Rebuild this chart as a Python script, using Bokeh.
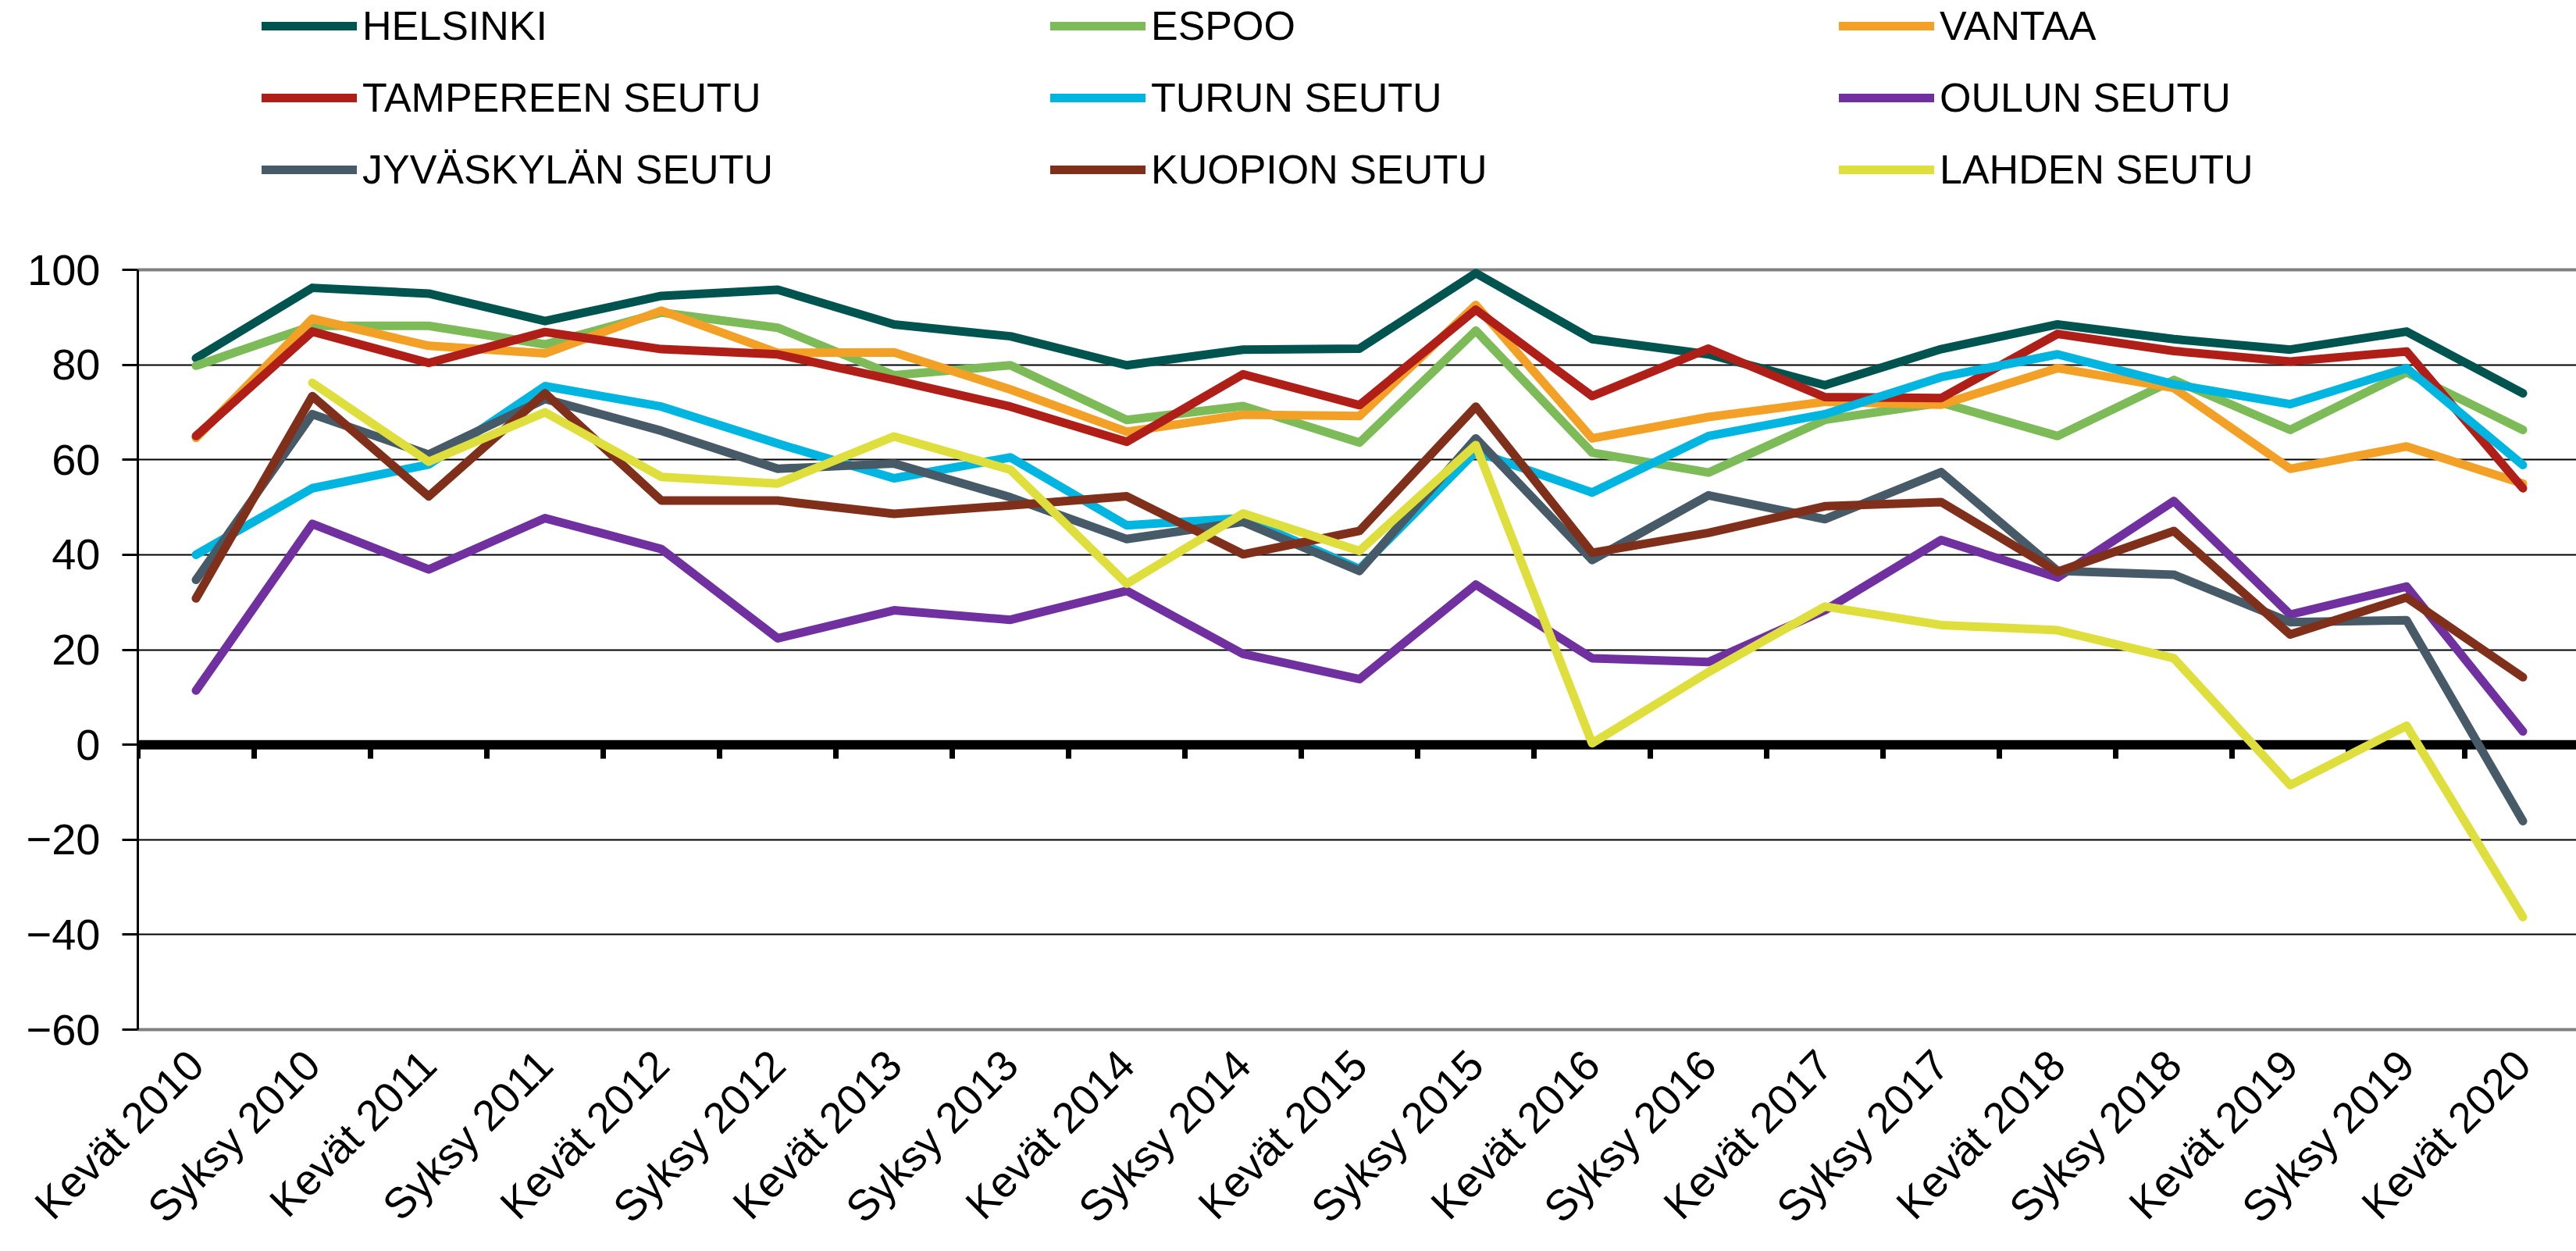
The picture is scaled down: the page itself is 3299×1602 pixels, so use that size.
import math
from bokeh.plotting import figure
from bokeh.models import Range1d, FixedTicker, Span, Legend, LegendItem, ColumnDataSource
from bokeh.embed import file_html
from bokeh.resources import INLINE

categories = ["Kevät 2010", "Syksy 2010", "Kevät 2011", "Syksy 2011", "Kevät 2012",
              "Syksy 2012", "Kevät 2013", "Syksy 2013", "Kevät 2014", "Syksy 2014",
              "Kevät 2015", "Syksy 2015", "Kevät 2016", "Syksy 2016", "Kevät 2017",
              "Syksy 2017", "Kevät 2018", "Syksy 2018", "Kevät 2019", "Syksy 2019",
              "Kevät 2020"]

helsinki = [81.4, 96.2, 95.0, 89.2, 94.5, 95.8, 88.5, 86.0, 79.9, 83.2, 83.4,
            99.3, 85.4, 82.2, 75.7, 83.3, 88.5, 85.4, 83.2, 87.0, 74.0]
espoo = [79.8, 88.2, 88.2, 84.3, 91.0, 87.8, 77.8, 79.9, 68.4, 71.3, 63.6,
         87.2, 61.5, 57.3, 68.4, 72.0, 65.0, 76.8, 66.3, 78.4, 66.3]
vantaa = [64.6, 89.7, 84.0, 82.4, 91.4, 82.5, 82.6, 74.8, 65.9, 69.5, 69.2,
          92.6, 64.5, 69.0, 72.2, 71.6, 79.3, 75.1, 58.1, 62.8, 55.0]
tampere = [65.0, 87.0, 80.4, 86.9, 83.3, 82.2, 76.8, 71.2, 63.8, 78.0, 71.5,
           91.6, 73.4, 83.4, 73.2, 73.0, 86.5, 82.9, 80.7, 82.8, 54.0]
turku = [40.0, 54.0, 59.0, 75.5, 71.2, 63.4, 56.1, 60.5, 46.2, 47.7, 37.0,
         61.7, 53.1, 65.0, 69.6, 77.4, 82.2, 75.9, 71.7, 79.3, 58.9]
oulu = [11.4, 46.5, 36.9, 47.7, 41.2, 22.4, 28.3, 26.3, 32.4, 19.1, 13.8,
        33.7, 18.2, 17.4, 28.3, 43.1, 35.2, 51.3, 27.4, 33.3, 2.8]
jyvaskyla = [34.7, 69.6, 61.1, 72.8, 66.1, 58.1, 59.2, 52.1, 43.3, 46.9, 36.6,
             64.5, 38.9, 52.5, 47.5, 57.4, 36.6, 35.8, 25.8, 26.2, -16.1]
kuopio = [30.8, 73.4, 52.3, 74.0, 51.4, 51.4, 48.6, 50.4, 52.3, 40.1, 45.0,
          71.2, 40.4, 44.6, 50.2, 51.1, 36.4, 45.0, 23.2, 31.0, 14.2]
lahti = [float("nan"), 76.2, 59.6, 70.0, 56.4, 55.0, 64.9, 57.9, 33.9, 48.7, 40.8,
         63.1, 0.3, 15.3, 29.1, 25.2, 24.1, 18.2, -8.5, 4.0, -36.3]

series_names = ["HELSINKI", "ESPOO", "VANTAA", "TAMPEREEN SEUTU", "TURUN SEUTU",
                "OULUN SEUTU", "JYVÄSKYLÄN SEUTU", "KUOPION SEUTU", "LAHDEN SEUTU"]
series_values = [helsinki, espoo, vantaa, tampere, turku, oulu, jyvaskyla, kuopio, lahti]
series_colors = ["#00544F", "#7CBB58", "#F3A126", "#B01E18", "#00B5E0",
                 "#7030A0", "#475A68", "#80301A", "#DEDE3C"]

y_ticks = [-60, -40, -20, 0, 20, 40, 60, 80, 100]

FONT = "Liberation Sans"
W, H = 3299, 1602
LEFT, BOTTOM = 176, 281
PX_PER_UNIT = 6.095
n = len(categories)
x_end = -0.5 + (W - LEFT) / 149.0
y_top = -60 + (H - BOTTOM) / PX_PER_UNIT

p = figure(width=W, height=H,
           x_range=Range1d(-0.5, x_end), y_range=Range1d(-60, y_top),
           output_backend="svg", toolbar_location=None,
           min_border_left=LEFT, min_border_right=0,
           min_border_top=0, min_border_bottom=BOTTOM)
p.outline_line_color = None
p.background_fill_color = "white"
p.border_fill_color = "white"

p.xgrid.visible = False
p.ygrid.ticker = FixedTicker(ticks=[t for t in y_ticks if t not in (-60, 0, 100)])
p.ygrid.grid_line_color = "black"
p.ygrid.grid_line_width = 2

top_line = Span(location=100, dimension="width", line_color="#808080", line_width=4, level="underlay")
p.add_layout(top_line)
zero_line = Span(location=0, dimension="width", line_color="black", line_width=12, level="underlay")
p.add_layout(zero_line)

# category boundary ticks hanging below the zero line
bounds = [i - 0.5 for i in range(n + 1)]
p.segment(x0=bounds, y0=[0] * len(bounds), x1=bounds, y1=[-2.95] * len(bounds),
          line_color="black", line_width=7)

x = list(range(n))
items = []
for name, vals, col in zip(series_names, series_values, series_colors):
    src = ColumnDataSource(dict(x=x, y=vals))
    r = p.line("x", "y", source=src, line_color=col, line_width=11,
               line_cap="round", line_join="round")
    items.append(LegendItem(label=name, renderers=[r]))

# y axis
p.yaxis.ticker = FixedTicker(ticks=y_ticks)
p.yaxis.bounds = (-60, 100)
p.yaxis.axis_line_color = "black"
p.yaxis.axis_line_width = 3
p.yaxis.major_tick_line_color = "black"
p.yaxis.major_tick_line_width = 3
p.yaxis.major_tick_out = 20
p.yaxis.major_tick_in = 0
p.yaxis.minor_tick_line_color = None
p.yaxis.major_label_text_font = FONT
p.yaxis.major_label_text_font_size = "56px"
p.yaxis.major_label_text_color = "black"
p.yaxis.major_label_standoff = 28

# x axis
p.xaxis.ticker = FixedTicker(ticks=x)
p.xaxis.major_label_overrides = {i: c for i, c in enumerate(categories)}
p.xaxis.major_label_orientation = math.pi / 4
p.xaxis.axis_line_color = "#808080"
p.xaxis.axis_line_width = 4
p.xaxis.major_tick_line_color = None
p.xaxis.major_tick_out = 0
p.xaxis.major_tick_in = 0
p.xaxis.minor_tick_line_color = None
p.xaxis.major_label_text_font = FONT
p.xaxis.major_label_text_font_size = "55px"
p.xaxis.major_label_text_color = "black"
p.xaxis.major_label_standoff = 36

legend = Legend(items=items, location=(159, 1071), orientation="horizontal", ncols=3,
                glyph_width=122, glyph_height=60, label_height=60, label_width=849,
                label_standoff=7, spacing=32, padding=0, margin=0,
                border_line_color=None, background_fill_alpha=0,
                label_text_font=FONT, label_text_font_size="52px",
                label_text_color="black")
p.add_layout(legend)

open("out.html", "w").write(file_html(p, INLINE))
